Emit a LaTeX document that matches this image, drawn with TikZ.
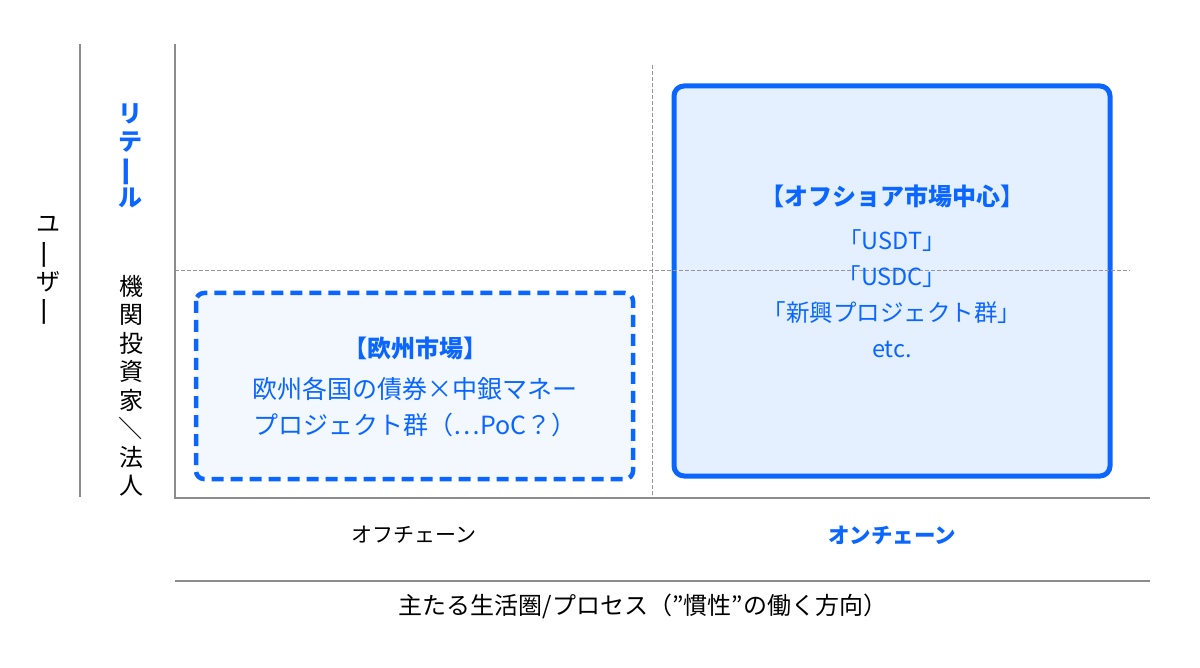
\documentclass[tikz,border=0pt]{standalone}
\usepackage{fontspec}
\setmainfont{Noto Sans CJK JP}
\usepackage{graphicx}
\definecolor{accent}{RGB}{10,102,255}
\definecolor{axisgray}{RGB}{140,140,140}
\definecolor{gridgray}{RGB}{150,150,150}
\definecolor{fillA}{RGB}{243,248,255}
\definecolor{fillB}{RGB}{228,239,255}
\newcommand{\vchoon}{\rotatebox[origin=c]{90}{\scalebox{1.3}[1]{ー}}}
\newcommand{\vslash}{\rotatebox[origin=c]{-90}{／}}
\begin{document}
\begin{tikzpicture}[x=1pt,y=-1pt,
  axisline/.style={draw=axisgray,line width=2pt},
  gridline/.style={draw=gridgray,line width=0.9pt,dash pattern=on 4pt off 2pt},
  dashbox/.style={draw=accent,line width=4.5pt,dash pattern=on 12pt off 7pt,rounded corners=8pt,fill=fillA},
  solidbox/.style={draw=accent,line width=5pt,rounded corners=10pt,fill=fillB},
  boxtitle/.style={text=accent,font=\bfseries\fontsize{24}{28}\selectfont,inner sep=0pt},
  boxbody/.style={text=accent,align=center,inner sep=0pt},
  axislabel/.style={font=\fontsize{21}{24}\selectfont,inner sep=0pt},
  vlabel/.style={align=center,inner sep=0pt}
]
\useasboundingbox (0,0) rectangle (1200,668);
% coordinates
\coordinate (uTop) at (80,44);
\coordinate (uBot) at (80,497);
\coordinate (yTop) at (175,44);
\coordinate (O) at (175,498);
\coordinate (xEnd) at (1150,498);
\coordinate (vTop) at (652,65);
\coordinate (vBot) at (652,498);
\coordinate (hL) at (175,270);
\coordinate (hR) at (1130,270);
\coordinate (bL) at (175,581);
\coordinate (bR) at (1150,581);
% grid
\draw[gridline] (vTop) -- (vBot);
% boxes
\draw[dashbox] (196,293) rectangle (633,479);
\draw[solidbox] (674,86) rectangle (1110,476);
\draw[gridline] (hL) -- (hR);
% axes
\draw[axisline] (uTop) -- (uBot);
\draw[axisline] (yTop) -- (O) -- (xEnd);
\draw[axisline] (bL) -- (bR);
% box texts
\node[boxtitle] (tA) at (415,348) {【欧州市場】};
\node[boxbody,font=\fontsize{25}{35.5}\selectfont] (bA) at (415,407) {欧州各国の債券×中銀マネー\\プロジェクト群（…PoC？）};
\node[boxtitle] (tB) at (892,196) {【オフショア市場中心】};
\node[boxbody,font=\fontsize{23.5}{36}\selectfont] (bB) at (892,294) {「USDT」\\「USDC」\\「新興プロジェクト群」\\etc.};
% axis labels
\node[axislabel] (off) at (414,535) {オフチェーン};
\node[axislabel,text=accent,font=\bfseries\fontsize{21.5}{24}\selectfont] (on) at (892,535) {オンチェーン};
\node[font=\fontsize{24}{28}\selectfont,inner sep=0pt] (xt) at (643,606) {主たる生活圏/プロセス（”慣性”の働く方向）};
% vertical labels
\node[vlabel,font=\fontsize{24}{27}\selectfont] (user) at (48,272) {ユ\\\vchoon\\ザ\\\vchoon};
\node[vlabel,text=accent,font=\bfseries\fontsize{24}{27.5}\selectfont] (ret) at (130,156) {リ\\テ\\\vchoon\\ル};
\node[vlabel,font=\fontsize{24}{28.5}\selectfont] (inst) at (131,386) {機\\関\\投\\資\\家\\\vslash\\法\\人};
\end{tikzpicture}
\end{document}
